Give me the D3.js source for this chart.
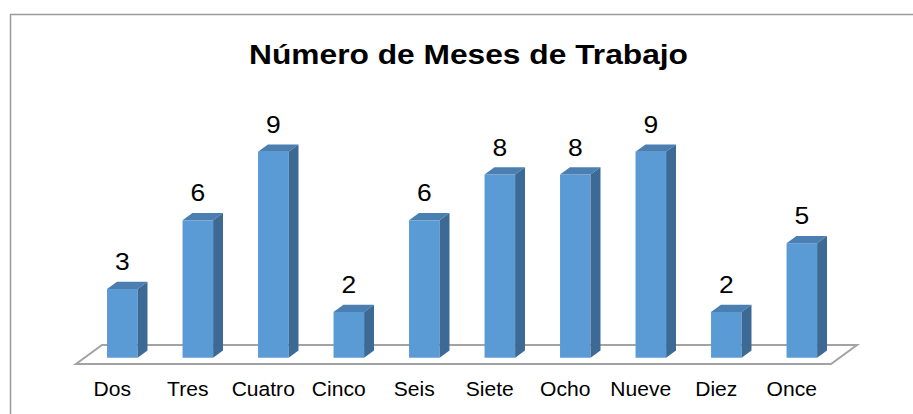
<!DOCTYPE html>
<meta charset="utf-8">
<style>

body {
  margin: 0;
  background: #fff;
}

svg {
  font-family: "Liberation Sans", Arial, sans-serif;
}

.frame {
  fill: #fff;
  stroke: #9a9a9a;
  stroke-width: 1.5;
}

.floor {
  fill: none;
  stroke: #a3a3a3;
  stroke-width: 2;
}

.front { fill: #5b9bd5; }
.top   { fill: #4c7fb1; }
.side  { fill: #3d6a94; }

</style>
<body>
<script src="https://cdn.jsdelivr.net/npm/d3@7"></script>
<script>

var categories = ["Dos", "Tres", "Cuatro", "Cinco", "Seis", "Siete", "Ocho", "Nueve", "Diez", "Once"];
var values = [3, 6, 9, 2, 6, 8, 8, 9, 2, 5];
var title = "Número de Meses de Trabajo";

var width = 913,
    height = 414;

// floor front edge and depth vector of the 3d floor
var floorLeft = 76,
    floorRight = 831,
    floorY = 364,
    depthX = 26,
    depthY = -19;

// bars sit between these fractions of the floor depth
var barNear = 0.33,
    barFar = 0.71;

var x = d3.scaleBand()
    .domain(categories)
    .range([floorLeft, floorRight]);

var y = d3.scaleLinear()
    .domain([0, 10])
    .range([floorY, floorY - 229]);

var svg = d3.select("body").append("svg")
    .attr("width", width)
    .attr("height", height);

svg.append("rect")
    .attr("class", "frame")
    .attr("x", 10.5)
    .attr("y", 14.5)
    .attr("width", width + 20)
    .attr("height", height + 20);

// text in the original is a little wider than the installed fonts
svg.append("text")
    .attr("x", 249)
    .attr("y", 63.5)
    .attr("textLength", 439)
    .attr("lengthAdjust", "spacingAndGlyphs")
    .style("font-size", "27px")
    .style("font-weight", "bold")
    .text(title);

svg.append("polygon")
    .attr("class", "floor")
    .attr("points", [
      [floorLeft, floorY],
      [floorRight, floorY],
      [floorRight + depthX, floorY + depthY],
      [floorLeft + depthX, floorY + depthY]
    ].join(" "));

var barW = x.bandwidth() * 0.405,
    ox = depthX * barNear, oy = depthY * barNear,
    dx = depthX * (barFar - barNear), dy = depthY * (barFar - barNear);

var data = categories.map(function(c, i) { return {name: c, value: values[i]}; });

var bar = svg.selectAll(".bar")
    .data(data)
  .enter().append("g")
    .attr("class", "bar")
    .attr("transform", function(d) {
      return "translate(" + (x(d.name) + x.bandwidth() / 2 - barW / 2 + ox) + "," + oy + ")";
    });

bar.append("rect")
    .attr("class", "front")
    .attr("x", 0)
    .attr("y", function(d) { return y(d.value); })
    .attr("width", barW)
    .attr("height", function(d) { return y(0) - y(d.value); });

bar.append("polygon")
    .attr("class", "top")
    .attr("points", function(d) {
      var t = y(d.value);
      return [[0, t], [barW, t], [barW + dx, t + dy], [dx, t + dy]].join(" ");
    });

bar.append("polygon")
    .attr("class", "side")
    .attr("points", function(d) {
      var t = y(d.value), b = y(0);
      return [[barW, t], [barW + dx, t + dy], [barW + dx, b + dy], [barW, b]].join(" ");
    });

bar.append("text")
    .attr("transform", function(d) {
      return "translate(" + (barW / 2) + "," + (y(d.value) - 19) + ") scale(1.15,1)";
    })
    .attr("text-anchor", "middle")
    .style("font-size", "23px")
    .text(function(d) { return d.value; });

svg.selectAll(".label")
    .data(categories)
  .enter().append("text")
    .attr("class", "label")
    .attr("transform", function(d) {
      return "translate(" + (x(d) + x.bandwidth() / 2 - 1.5) + ",395.5) scale(1.08,1)";
    })
    .attr("text-anchor", "middle")
    .style("font-size", "19.5px")
    .text(function(d) { return d; });

</script>
